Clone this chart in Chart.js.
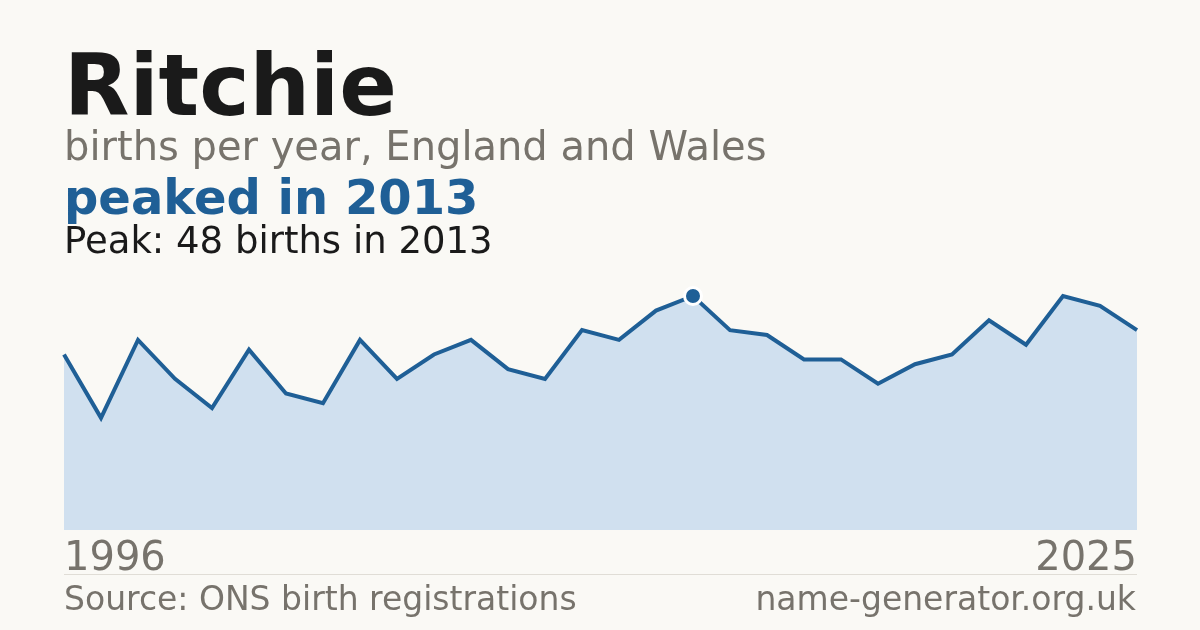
<!DOCTYPE html>
<html>
<head>
<meta charset="utf-8">
<script src="https://cdn.jsdelivr.net/npm/chart.js@4.4.1/dist/chart.umd.min.js"></script>
<style>
  html, body { margin:0; padding:0; }
  body { width:1200px; height:630px; background:#faf9f5; position:relative; overflow:hidden; font-family:"DejaVu Sans", sans-serif; }
  .t { position:absolute; left:64px; white-space:nowrap; line-height:1; }
  #title { top:43px; font-size:85px; font-weight:bold; color:#1a1a1a; }
  #sub { top:126px; font-size:40px; color:#77736c; }
  #peaked { top:173px; font-size:48px; font-weight:bold; color:#1f5f96; }
  #peak { top:222px; font-size:37px; color:#1a1a1a; }
  #src { top:582px; font-size:33px; color:#77736c; }
  #site { top:582px; left:auto; right:64px; font-size:33px; color:#77736c; }
  #rule { position:absolute; left:64px; width:1073px; top:574px; height:1px; background:#e0ddd6; }
  #wrap { position:absolute; left:0; top:0; width:1200px; height:630px; }
</style>
</head>
<body>
<div id="wrap"><canvas id="c" width="1200" height="630"></canvas></div>
<div class="t" id="title">Ritchie</div>
<div class="t" id="sub">births per year, England and Wales</div>
<div class="t" id="peaked">peaked in 2013</div>
<div class="t" id="peak">Peak: 48 births in 2013</div>
<div id="rule"></div>
<div class="t" id="src">Source: ONS birth registrations</div>
<div class="t" id="site">name-generator.org.uk</div>
<script>
const years = [1996,1997,1998,1999,2000,2001,2002,2003,2004,2005,2006,2007,2008,2009,2010,2011,2012,2013,2014,2015,2016,2017,2018,2019,2020,2021,2022,2023,2024,2025];
const births = [36,23,39,31,25,37,28,26,39,31,36,39,33,31,41,39,45,48,41,40,35,35,30,34,36,43,38,48,46,41];
const tickLabels = ["1996","2025"];

const peakValue = Math.max(...births);
const peakIndex = births.indexOf(peakValue);
const blue = "#1f5f96";

new Chart(document.getElementById("c"), {
  type: "line",
  data: {
    labels: years.map(String),
    datasets: [{
      data: births,
      borderColor: blue,
      borderWidth: 4,
      backgroundColor: "#d0e0ef",
      fill: "origin",
      tension: 0,
      pointRadius: ctx => ctx.dataIndex === peakIndex ? 8.5 : 0,
      pointHoverRadius: 0,
      pointBackgroundColor: blue,
      pointBorderColor: "#ffffff",
      pointBorderWidth: 3
    }]
  },
  options: {
    responsive: false,
    animation: false,
    events: [],
    layout: { padding: { left: 64, right: 63, top: 272.6, bottom: 50 } },
    plugins: { legend: { display: false }, tooltip: { enabled: false } },
    scales: {
      x: {
        offset: false,
        grid: { display: false, drawTicks: false },
        border: { display: false },
        afterFit: s => { s.height = 50; },
        ticks: {
          autoSkip: false,
          maxRotation: 0,
          align: "inner",
          padding: 6,
          color: "#77736c",
          font: { family: "DejaVu Sans", size: 40 },
          callback: (v, i, arr) => {
            const lbl = years[i].toString();
            return tickLabels.includes(lbl) ? lbl : "";
          }
        }
      },
      y: {
        display: false,
        min: 0,
        max: peakValue * 1.1
      }
    }
  }
});
</script>
</body>
</html>
